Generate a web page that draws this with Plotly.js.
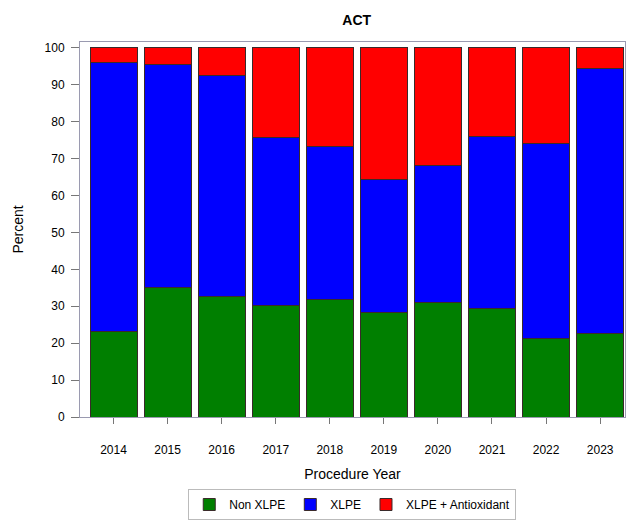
<!DOCTYPE html>
<html><head><meta charset="utf-8">
<script src="https://cdn.plot.ly/plotly-3.0.1.min.js"></script>
<style>body{margin:0;background:#fff}#chart{width:637px;height:520px}</style>
</head><body><div id="chart"></div>
<script>
const years = ['2014','2015','2016','2017','2018','2019','2020','2021','2022','2023'];
const nonXLPE = [23.2, 35.0, 32.7, 30.2, 31.8, 28.3, 30.9, 29.3, 21.4, 22.5];
const xlpe = [72.9, 60.6, 59.9, 45.6, 41.4, 36.0, 37.3, 46.7, 52.7, 71.9];
const xlpeAntiox = [3.9, 4.4, 7.4, 24.2, 26.8, 35.7, 31.8, 24.0, 25.9, 5.6];
const seriesNames = ['Non XLPE', 'XLPE', 'XLPE + Antioxidant'];
const colors = ['#007F00', '#0000FF', '#FF0000'];
const data = [nonXLPE, xlpe, xlpeAntiox].map((v, i) => ({
  type: 'bar', x: years, y: v, name: seriesNames[i],
  marker: {color: colors[i], line: {color: '#3a2a2a', width: 1}},
  hoverinfo: 'x+y+name'
}));
const layout = {
  width: 637, height: 520,
  margin: {l: 80, r: 12, t: 42, b: 103},
  barmode: 'stack', bargap: 0.13,
  paper_bgcolor: '#fff', plot_bgcolor: '#fff',
  font: {family: 'Liberation Sans, Arial, sans-serif', size: 12, color: '#000'},
  title: {text: '<b>ACT</b>', x: 0.56, xanchor: 'center', y: 0.962, yanchor: 'middle', font: {size: 14}},
  xaxis: {
    type: 'category', range: [-0.62, 9.46], showgrid: false,
    ticks: 'outside', ticklen: 6, tickcolor: '#777', ticklabelstandoff: 16,
    showline: true, linecolor: '#9a9ab0', mirror: true,
    title: {text: 'Procedure Year', font: {size: 14}, standoff: 12}
  },
  yaxis: {
    range: [0, 101.6], dtick: 10, showgrid: false,
    ticks: 'outside', ticklen: 8, tickcolor: '#777', ticklabelstandoff: 4,
    showline: true, linecolor: '#9a9ab0', mirror: true,
    title: {text: 'Percent', font: {size: 14}, standoff: 17}
  },
  legend: {
    orientation: 'h', x: 0.553, xanchor: 'center', xref: 'container',
    y: 0.0, yanchor: 'bottom', yref: 'container',
    bordercolor: '#bbb', borderwidth: 1, font: {size: 12}, traceorder: 'normal'
  },
  showlegend: true
};
Plotly.newPlot('chart', data, layout, {displayModeBar: false, staticPlot: true});
</script></body></html>
